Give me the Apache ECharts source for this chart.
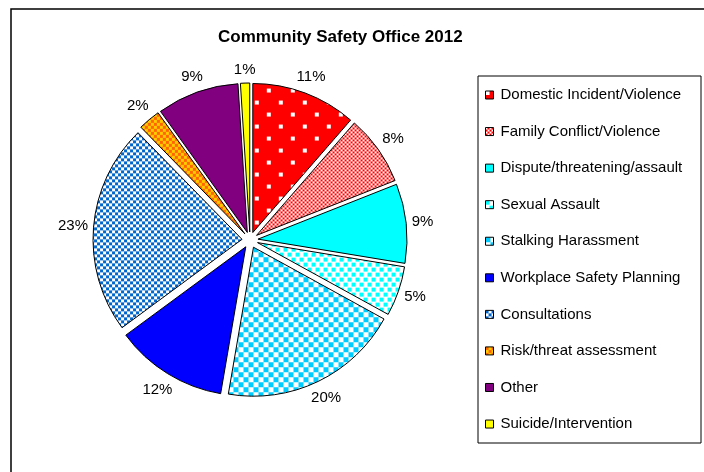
<!DOCTYPE html>
<html><head><meta charset="utf-8">
<script src="https://cdn.jsdelivr.net/npm/echarts@6/dist/echarts.min.js"></script>
<style>html,body{margin:0;padding:0;background:#fff}#c{width:704px;height:472px}</style>
</head><body><div id="c"></div>
<script>
const title = 'Community Safety Office 2012';
const categories = ['Domestic Incident/Violence','Family Conflict/Violence','Dispute/threatening/assault','Sexual Assault','Stalking Harassment','Workplace Safety Planning','Consultations','Risk/threat assessment','Other','Suicide/Intervention'];
const values = [11.4, 7.6, 8.6, 5.4, 19.7, 12.2, 22.8, 2.4, 8.9, 1.0];

function pat(size, bg, fg, rects) {
  const c = document.createElement('canvas');
  c.width = size[0]; c.height = size[1];
  const g = c.getContext('2d');
  g.fillStyle = bg; g.fillRect(0, 0, c.width, c.height);
  g.fillStyle = fg;
  rects.forEach(r => g.fillRect(r[0], r[1], r[2], r[3]));
  return { image: c, repeat: 'repeat' };
}
const fills = [
  pat([24,24], '#FF0000', '#FFFFFF', [[0,0,4,4],[12,12,4,4]]),
  pat([4,4], '#FF0000', '#FFFFFF', [[0,0,2,2],[2,2,2,2]]),
  '#00FFFF',
  pat([8,10], '#FFFFFF', '#00FFFF', [[0,0,4,4],[4,5,4,4]]),
  pat([10,10], '#FFFFFF', '#00CCFF', [[0,0,5,5],[5,5,5,5]]),
  '#0000FF',
  pat([6,6], '#FFFFFF', '#0066CC', [[0,0,3,3],[3,3,3,3]]),
  pat([6,6], '#FFCC00', '#FF6600', [[0,0,3,3],[3,3,3,3]]),
  '#800080',
  '#FFFF00'
];

const CX = 250, CY = 240, R = 149, OFF = 8;
const total = values.reduce((a, b) => a + b, 0);
const mids = [];
let acc = 0;
values.forEach(v => { mids.push((acc + v / 2) / total * 2 * Math.PI); acc += v; });

const FONT = 'Liberation Sans, Arial, sans-serif';
const chart = echarts.init(document.getElementById('c'), null, { renderer: 'canvas' });
chart.setOption({
  animation: false,
  backgroundColor: '#fff',
  textStyle: { fontFamily: FONT },
  title: {
    text: title, left: 213, top: 24,
    textStyle: { fontSize: 17, fontWeight: 'bold', color: '#000', fontFamily: FONT }
  },
  graphic: [
    { type: 'rect', shape: { x: 11, y: 9, width: 760, height: 520 }, style: { fill: null, stroke: '#000', lineWidth: 1.5 }, silent: true },
    { type: 'rect', shape: { x: 478, y: 76, width: 223, height: 367 }, style: { fill: null, stroke: '#000', lineWidth: 1 }, silent: true }
  ],
  legend: {
    orient: 'vertical', left: 485, top: 87.5, padding: 0,
    itemWidth: 8, itemHeight: 8, itemGap: 21.56, icon: 'rect',
    selectedMode: false,
    itemStyle: { borderColor: '#000', borderWidth: 1 },
    textStyle: { fontSize: 15, lineHeight: 15, color: '#000', padding: [0, 0, 0, 2], fontFamily: FONT },
    data: categories
  },
  series: [{
    type: 'pie',
    center: [CX, CY], radius: R,
    startAngle: 90, clockwise: true,
    selectedMode: 'multiple', selectedOffset: OFF,
    avoidLabelOverlap: false,
    itemStyle: { borderColor: '#000', borderWidth: 1 },
    select: { itemStyle: { borderColor: '#000', borderWidth: 1 } },
    emphasis: { disabled: true },
    labelLine: { show: false, length: 0, length2: 0 },
    label: {
      show: true, position: 'outside', color: '#000', fontSize: 15,
      fontFamily: FONT, distanceToLabelLine: 0,
      formatter: p => Math.round(p.percent) + '%'
    },
    labelLayout: function (p) {
      const a = mids[p.dataIndex];
      const ux = Math.sin(a), uy = -Math.cos(a);
      const w = p.labelRect.width, h = p.labelRect.height;
      const ext = Math.abs(ux) * w / 2 + Math.abs(uy) * h / 2 + 5;
      return { dx: ux * ext, dy: uy * ext, align: 'center', verticalAlign: 'middle' };
    },
    data: categories.map((n, i) => ({ name: n, value: values[i], selected: true, itemStyle: { color: fills[i] } }))
  }]
});
</script>
</body></html>
